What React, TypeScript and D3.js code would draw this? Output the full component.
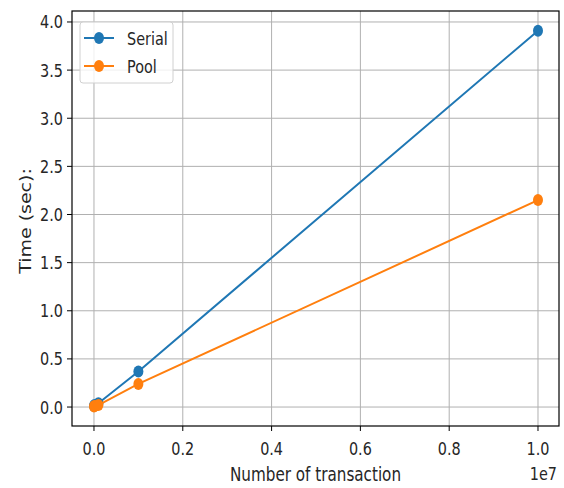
import * as d3 from 'd3';

// data
const transactions = [1e3, 1e4, 1e5, 1e6, 1e7];
const serialTime = [0.01, 0.02, 0.04, 0.37, 3.91];
const poolTime = [0.005, 0.01, 0.02, 0.24, 2.15];
const xTicks = [0, 0.2e7, 0.4e7, 0.6e7, 0.8e7, 1e7];
const yTicks = [0, 0.5, 1, 1.5, 2, 2.5, 3, 3.5, 4];

const W = 564;
const H = 488;
const left = 72, right = 559, top = 11, bottom = 426;
const FONT = 'DejaVu Sans, sans-serif';
const SX = 0.8; // the picture is squeezed horizontally

export default function App() {
  const x = d3.scaleLinear().domain([-0.0495e7, 1.0473e7]).range([left, right]);
  const y = d3.scaleLinear().domain([-0.197, 4.114]).range([bottom, top]);

  const line = d3.line<number>()
    .x((_, i) => x(transactions[i]))
    .y(d => y(d));

  const series = [
    { name: 'Serial', values: serialTime, color: '#1f77b4' },
    { name: 'Pool', values: poolTime, color: '#ff7f0e' },
  ];

  const txt = (tx: number, ty: number, s: string, anchor: string, size: number) => (
    <text
      transform={`translate(${tx},${ty}) scale(${SX},1)`}
      textAnchor={anchor}
      fontSize={size}
      fontFamily={FONT}
      fill="#262626"
    >
      {s}
    </text>
  );

  return (
    <svg width={W} height={H} style={{ position: 'absolute', left: 0, top: 0 }}>
      <rect width={W} height={H} fill="#fff" />
      {/* grid */}
      {xTicks.map(t => (
        <line key={'gx' + t} x1={x(t)} x2={x(t)} y1={top} y2={bottom} stroke="#b0b0b0" strokeWidth={1} />
      ))}
      {yTicks.map(t => (
        <line key={'gy' + t} x1={left} x2={right} y1={y(t)} y2={y(t)} stroke="#b0b0b0" strokeWidth={1} />
      ))}

      {/* series */}
      {series.map(s => (
        <g key={s.name}>
          <path d={line(s.values) ?? ''} fill="none" stroke={s.color} strokeWidth={2} />
          {s.values.map((v, i) => (
            <ellipse key={i} cx={x(transactions[i])} cy={y(v)} rx={5} ry={6} fill={s.color} />
          ))}
        </g>
      ))}

      {/* frame */}
      <rect x={left} y={top} width={right - left} height={bottom - top} fill="none" stroke="#000" strokeWidth={1.2} />

      {/* x axis */}
      {xTicks.map(t => (
        <g key={'xt' + t}>
          <line x1={x(t)} x2={x(t)} y1={bottom} y2={bottom + 5} stroke="#000" />
          {txt(x(t), bottom + 29, (t / 1e7).toFixed(1), 'middle', 18)}
        </g>
      ))}
      {txt(557, 480, '1e7', 'end', 18)}
      {txt((left + right) / 2, 481, 'Number of transaction', 'middle', 19)}

      {/* y axis */}
      {yTicks.map(t => (
        <g key={'yt' + t}>
          <line x1={left - 5} x2={left} y1={y(t)} y2={y(t)} stroke="#000" />
          {txt(left - 9, y(t) + 6.5, t.toFixed(1), 'end', 18)}
        </g>
      ))}
      <text
        transform={`translate(31,221) scale(${SX},1) rotate(-90)`}
        textAnchor="middle"
        fontSize={19}
        fontFamily={FONT}
        fill="#262626"
      >
        Time (sec):
      </text>

      {/* legend */}
      <rect x={80} y={22} width={93} height={61} rx={3} fill="#fff" fillOpacity={0.8} stroke="#d0d0d0" />
      {series.map((s, i) => (
        <g key={'lg' + s.name}>
          <line x1={84} x2={114} y1={38 + i * 28} y2={38 + i * 28} stroke={s.color} strokeWidth={2} />
          <ellipse cx={99} cy={38 + i * 28} rx={5} ry={6} fill={s.color} />
          {txt(127, 38 + i * 28 + 6.5, s.name, 'start', 18)}
        </g>
      ))}
    </svg>
  );
}
